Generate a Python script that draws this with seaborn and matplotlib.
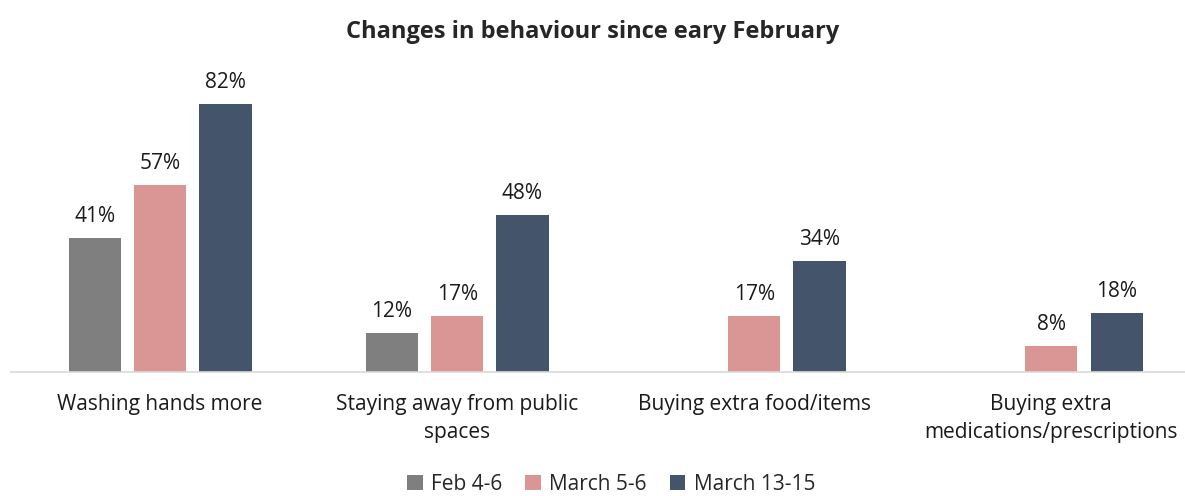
import pandas as pd
import matplotlib.pyplot as plt
import seaborn as sns

# ==========================
# Data
# ==========================

categories = [
    "Washing hands more",
    "Staying away from public\nspaces",
    "Buying extra food/items",
    "Buying extra\nmedications/prescriptions",
]
waves = ["Feb 4-6", "March 5-6", "March 13-15"]

feb_4_6 = [41, 12, None, None]
march_5_6 = [57, 17, 17, 8]
march_13_15 = [82, 48, 34, 18]

colors = ["#7F7F7F", "#DA9694", "#44546A"]

rows = []
for wave, vals in zip(waves, [feb_4_6, march_5_6, march_13_15]):
    for cat, v in zip(categories, vals):
        if v is not None:
            rows.append({"category": cat, "wave": wave, "value": v})
df = pd.DataFrame(rows)

# ==========================
# Plot
# ==========================

sns.set_style("white")
plt.rcParams["font.family"] = ["Open Sans", "DejaVu Sans"]

fig = plt.figure(figsize=(11.85, 4.96), dpi=100)
ax = fig.add_axes([0.0097, 0.25, 0.9903, 0.63])

sns.barplot(
    data=df,
    x="category",
    y="value",
    hue="wave",
    order=categories,
    hue_order=waves,
    palette=colors,
    width=0.66,
    gap=0.2,
    saturation=1,
    linewidth=0,
    ax=ax,
)

for container in ax.containers:
    ax.bar_label(container, fmt="%d%%", padding=8, fontsize=15, color="#1a1a1a")

ax.set_xlim(-0.5, 3.45)
ax.set_ylim(0, 95.5)
ax.set_xlabel("")
ax.set_ylabel("")
ax.set_yticks([])
ax.tick_params(axis="x", length=0, labelsize=15, pad=16, colors="#1a1a1a")
for lbl in ax.get_xticklabels():
    lbl.set_linespacing(1.45)

for side in ["top", "left", "right"]:
    ax.spines[side].set_visible(False)
ax.spines["bottom"].set_color("#D9D9D9")
ax.spines["bottom"].set_linewidth(1.2)

ax.legend(
    loc="center",
    bbox_to_anchor=(0.511, -0.36),
    ncol=3,
    frameon=False,
    fontsize=15,
    handlelength=0.75,
    handleheight=0.75,
    handletextpad=0.4,
    columnspacing=1.1,
)

fig.suptitle(
    "Changes in behaviour since eary February",
    fontsize=17,
    fontweight="bold",
    y=0.96,
)

plt.savefig("out.png", dpi=100)
plt.close()
